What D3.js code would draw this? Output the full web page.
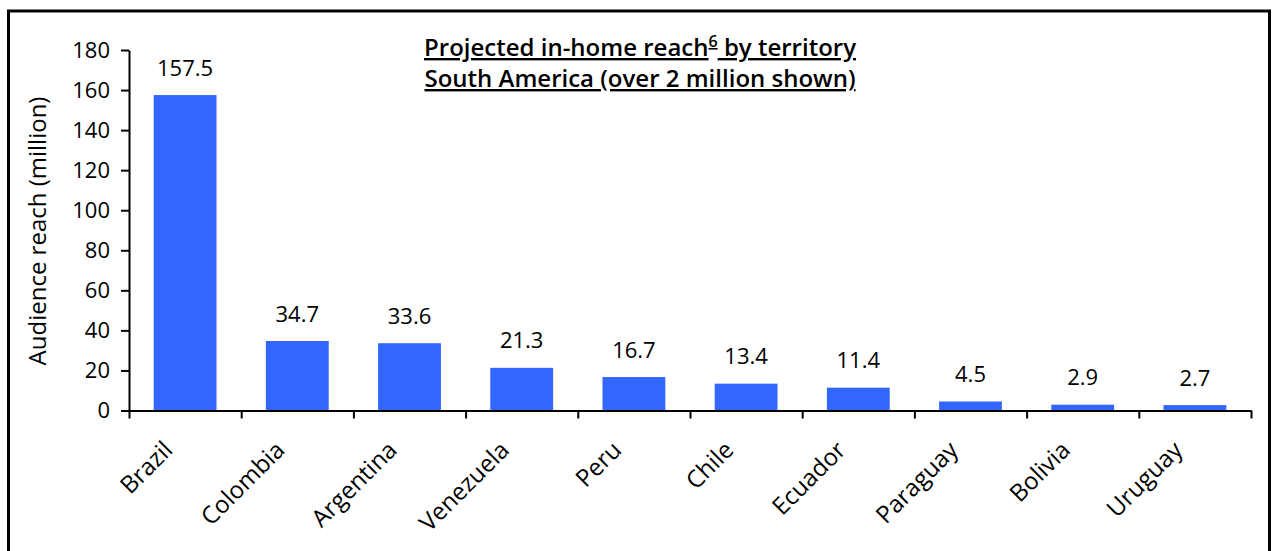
<html>
<meta charset="UTF-8">
<head>
  <style>
    body { margin: 0; background: #fff; }
    text { font-family: "Open Sans", sans-serif; }
  </style>
</head>
<script src="https://d3js.org/d3.v7.min.js"></script>
<body>
  <div id="chart"></div>
  <script>
    // data
    var territories = ["Brazil", "Colombia", "Argentina", "Venezuela", "Peru", "Chile", "Ecuador", "Paraguay", "Bolivia", "Uruguay"];
    var reach = [157.5, 34.7, 33.6, 21.3, 16.7, 13.4, 11.4, 4.5, 2.9, 2.7];
    var yTicks = [0, 20, 40, 60, 80, 100, 120, 140, 160, 180];

    var width = 1274;
    var height = 551;
    var margin = { top: 50, left: 129, right: 23, bottom: 141 };
    var chartWidth = width - margin.left - margin.right;
    var chartHeight = 410.5 - margin.top;

    var svg = d3.select("#chart").append("svg")
      .attr("width", width)
      .attr("height", height);

    // frame (bottom edge runs off the picture)
    svg.append("rect")
      .attr("x", 8.5)
      .attr("y", 11)
      .attr("width", 1261)
      .attr("height", 600)
      .attr("fill", "none")
      .attr("stroke", "#000")
      .attr("stroke-width", 3);

    var g = svg.append("g")
      .attr("transform", "translate(" + margin.left + "," + margin.top + ")");

    var xScale = d3.scaleBand()
      .domain(territories)
      .range([0, chartWidth])
      .paddingInner(0.44)
      .paddingOuter(0.22);

    // boundary positions for the category tick marks
    var edgeScale = d3.scaleLinear()
      .domain([0, territories.length])
      .range([0, chartWidth]);

    var yScale = d3.scaleLinear()
      .domain([0, 180])
      .range([chartHeight, 0]);

    // bars
    g.selectAll(".bar")
      .data(territories)
      .enter()
      .append("rect")
      .attr("class", "bar")
      .attr("x", d => xScale(d))
      .attr("y", (d, i) => yScale(reach[i]))
      .attr("width", xScale.bandwidth())
      .attr("height", (d, i) => chartHeight - yScale(reach[i]))
      .attr("fill", "#3366ff");

    // value labels
    g.selectAll(".val")
      .data(territories)
      .enter()
      .append("text")
      .attr("class", "val")
      .attr("x", d => xScale(d) + xScale.bandwidth() / 2)
      .attr("y", (d, i) => yScale(reach[i]) - 19.5)
      .attr("text-anchor", "middle")
      .attr("font-size", 22)
      .attr("fill", "#000")
      .text((d, i) => reach[i].toFixed(1));

    // y axis
    var yAxis = d3.axisLeft(yScale)
      .tickValues(yTicks)
      .tickSize(8)
      .tickPadding(11)
      .tickSizeOuter(0);

    var yG = g.append("g").call(yAxis);
    yG.selectAll("path, line").attr("stroke", "#000").attr("stroke-width", 2);
    yG.selectAll("text").attr("font-size", 22).attr("font-family", "Open Sans").attr("fill", "#000");

    // x axis with tick marks between categories
    var xAxis = d3.axisBottom(edgeScale)
      .tickValues(d3.range(0, territories.length + 1))
      .tickSize(8)
      .tickSizeOuter(0)
      .tickFormat("");

    var xG = g.append("g")
      .attr("transform", "translate(0," + chartHeight + ")")
      .call(xAxis);
    xG.selectAll("path, line").attr("stroke", "#000").attr("stroke-width", 2);

    // rotated category labels
    g.selectAll(".cat")
      .data(territories)
      .enter()
      .append("text")
      .attr("class", "cat")
      .attr("transform", d => "translate(" + (xScale(d) + xScale.bandwidth() / 2 - 11) + "," + (chartHeight + 41) + ") rotate(-45)")
      .attr("text-anchor", "end")
      .attr("font-size", 24)
      .attr("fill", "#000")
      .text(d => d);

    // y axis title
    svg.append("text")
      .attr("transform", "translate(46,231) rotate(-90)")
      .attr("text-anchor", "middle")
      .attr("font-size", 24)
      .attr("fill", "#000")
      .text("Audience reach (million)");

    // chart title
    var title1 = svg.append("text")
      .attr("x", 640)
      .attr("y", 56)
      .attr("text-anchor", "middle")
      .attr("font-size", 24)
      .attr("font-weight", 600)
      .attr("text-decoration", "underline")
      .attr("fill", "#000");
    title1.append("tspan").text("Projected in-home reach");
    title1.append("tspan").attr("font-size", 16).attr("dy", -9).text("6");
    title1.append("tspan").attr("dy", 9).text(" by territory");

    svg.append("text")
      .attr("x", 640)
      .attr("y", 87)
      .attr("text-anchor", "middle")
      .attr("font-size", 24)
      .attr("font-weight", 600)
      .attr("text-decoration", "underline")
      .attr("fill", "#000")
      .text("South America (over 2 million shown)");
  </script>
</body>
</html>
